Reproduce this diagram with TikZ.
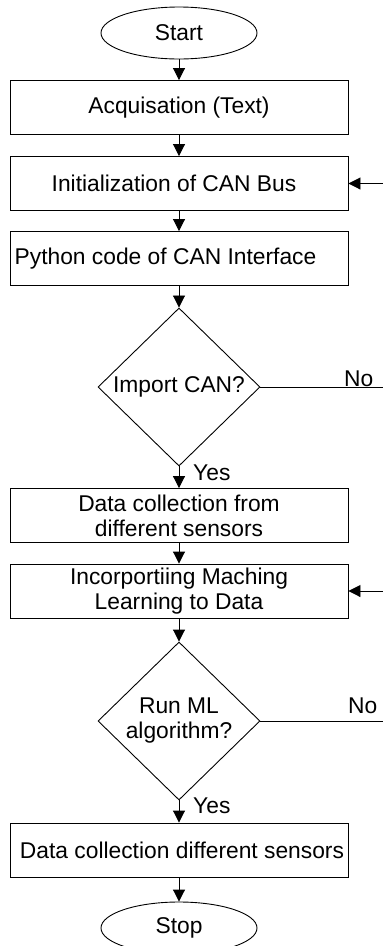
\documentclass[tikz,border=0pt]{standalone}
\usepackage{fontspec}
\setmainfont{Liberation Sans}
\usetikzlibrary{shapes.geometric,arrows.meta}

\begin{document}
\begin{tikzpicture}[x=1pt,y=-1pt,
	every node/.style={font=\fontsize{22.8}{25}\selectfont},
	box/.style={draw,line width=0.9pt,fill=white,minimum width=338pt,minimum height=54pt,inner sep=0pt,align=center},
	term/.style={draw,ellipse,line width=0.9pt,minimum width=156pt,minimum height=52pt,inner sep=0pt},
	decision/.style={draw,diamond,line width=0.9pt,minimum width=162pt,minimum height=158pt,inner sep=0pt,align=center},
	flow/.style={line width=0.9pt,-{Triangle[length=12pt,width=12pt]}},
	lab/.style={anchor=base west,inner sep=0pt}]
	\useasboundingbox (0,0) rectangle (383,946);
	\node[term] (start) at (179,33) {Start};
	\node[box] (acq) at (179,107.5) {Acquisation (Text)};
	\node[box] (init) at (179,183.5) {\hspace*{-10pt}Initialization of CAN Bus};
	\node[box] (py) at (179,258.5) {\hspace*{-27pt}Python code of CAN Interface};
	\node[decision] (imp) at (179,387) {Import CAN?};
	\node[box] (coll) at (179,515.5) {Data collection from\\different sensors};
	\node[box] (ml) at (179,591) {Incorportiing Maching\\Learning to Data};
	\node[decision] (run) at (179,721) {Run ML\\algorithm?};
	\node[box] (coll2) at (179,850) {\hspace*{6pt}Data collection different sensors};
	\node[term] (stop) at (179,928) {Stop};
	\coordinate (back1) at (383,183.5);
	\coordinate (back2) at (383,591);
	\coordinate (no1) at (383,387);
	\coordinate (no2) at (383,721);
	\draw[flow] (start) -- (acq);
	\draw[flow] (acq) -- (init);
	\draw[flow] (init) -- (py);
	\draw[flow] (py) -- (imp);
	\draw[flow] (imp) -- (coll);
	\draw[flow] (coll) -- (ml);
	\draw[flow] (ml) -- (run);
	\draw[flow] (run) -- (coll2);
	\draw[flow] (coll2) -- (stop);
	\draw[flow] (back1) -- (init);
	\draw[flow] (back2) -- (ml);
	\draw[line width=0.9pt] (imp) -- (no1);
	\draw[line width=0.9pt] (run) -- (no2);
	\node[lab] (nolab1) at (344,386) {No};
	\node[lab] (nolab2) at (348,713) {No};
	\node[lab] (yeslab1) at (193,480) {Yes};
	\node[lab] (yeslab2) at (193,813) {Yes};
\end{tikzpicture}
\end{document}
